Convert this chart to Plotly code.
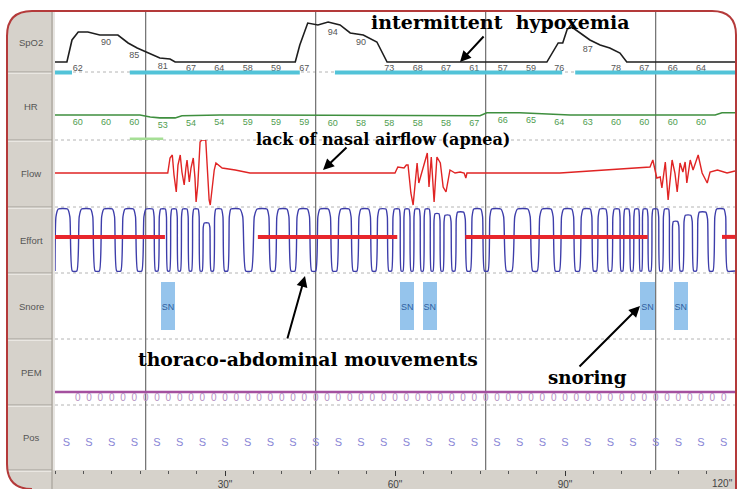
import numpy as np
import plotly.graph_objects as go

# ---------------- data ----------------
# SpO2 curve (time in s, value)
spo2_t = [0, 2.1, 3.0, 4.1, 5.8, 7.9, 11.1, 12.9, 14.5, 16.2, 18.5, 20.3, 21.2,
          42.4, 43.2, 44.6, 46.4, 48.2, 50.3, 52.1, 54.4, 56.8, 58.6,
          86.8, 88.8, 89.6, 90.4, 91.2, 92.6, 94.4, 96.2, 97.9, 99.7, 100.9, 120]
spo2_v = [58.3, 58.3, 76.7, 83.3, 83.3, 80.8, 80.8, 74.2, 70.0, 66.7, 61.7, 60.8, 58.3,
          58.3, 72.5, 90.8, 89.2, 91.7, 89.2, 82.5, 80.8, 75.0, 58.3,
          58.3, 74.2, 74.2, 85.8, 87.5, 82.5, 76.7, 72.5, 70.0, 65.8, 58.3, 58.3]
spo2_label_t = [4, 9, 14, 19, 24, 29, 34, 39, 44, 49, 54, 59, 64, 69, 74, 79, 84, 89, 94, 99, 104, 109, 114]
spo2_label_text = ['62', '90', '85', '81', '67', '64', '58', '59', '67', '94', '90', '73',
                   '68', '67', '61', '57', '59', '76', '87', '78', '67', '66', '64']
spo2_label_level = [52.5, 74.2, 63.3, 54.2, 52.5, 52.5, 52.5, 52.5, 52.5, 82.5, 74.2, 52.5,
                    52.5, 52.5, 52.5, 52.5, 52.5, 52.5, 68.3, 52.5, 52.5, 52.5, 52.5]
desat_start = [0, 13.2, 49.4, 91.8]
desat_end = [3.0, 43.2, 89.5, 120]

# Heart rate
hr_t = [0, 15, 16.8, 18.5, 21.2, 22.4, 29.1, 46.8, 75, 76.2, 82, 90.9, 116.5, 117.7, 120]
hr_v = [59, 59, 54, 52, 52, 57, 59, 58, 57, 64, 64, 59, 59, 64, 64]
hr_label_t = spo2_label_t
hr_label_text = ['60', '60', '60', '53', '54', '54', '59', '59', '59', '60', '58', '58',
                 '58', '58', '67', '66', '65', '64', '63', '60', '60', '60', '60']
hr_marker_start = [13.2]
hr_marker_end = [19.1]

# Nasal flow
flow_t = [0.0, 19.9, 20.3, 20.7, 21.0, 21.4, 21.7, 22.1, 22.4, 22.8, 23.1, 23.3, 23.7, 24.0,
          24.4, 24.7, 24.9, 25.2, 25.6, 25.9, 26.6, 26.8, 27.2, 27.4, 27.7, 28.1, 28.4, 29.5,
          31.8, 34.4, 60.0, 60.5, 61.6, 62.0, 62.3, 62.8, 63.2, 63.9, 64.2, 64.8, 65.7, 66.0,
          66.4, 66.9, 67.4, 68.0, 68.5, 69.0, 69.7, 70.6, 71.5, 72.2, 72.5, 72.7, 89.1, 105.0,
          105.5, 106.2, 106.8, 107.1, 107.7, 108.2, 108.9, 109.4, 109.8, 110.3, 110.8, 111.2,
          111.5, 112.1, 112.6, 113.5, 114.2, 115.1, 115.6, 116.9, 118.6, 120.0]
flow_v = [0, 0, 15, 18, -2, -19, 8, 18, 1, -12, 5, 13, -9, 5,
          15, -5, -29, -12, 31, 33, 33, 13, -27, -32, -17, 3, 10, 5,
          3, 0, 0, 6, 5, 8, 8, -20, -32, 10, -10, 3, 20, -14,
          16, -29, 16, 10, -14, -19, 3, 0, 1, 0, -5, 0, 0, 6,
          13, -5, -4, -15, 11, -27, 13, 0, -19, 10, 1, 11,
          -10, 13, 3, 18, 0, -10, 1, 3, 0, 2]

# Thoraco-abdominal effort: centre of each breath and its relative height
effort_hump_t = [1.4, 5.5, 9.4, 13.1, 16.8, 19.1, 21.0, 22.9, 24.9, 26.7, 28.8, 31.6,
                 36.7, 40.2, 43.8, 47.5, 51.2, 54.7, 57.9, 60.4, 62.1, 63.9, 65.7, 67.4,
                 69.2, 71.5, 74.5, 77.7, 82.6, 86.8, 90.5, 93.9, 96.7, 99.2, 100.9, 102.7,
                 104.1, 105.9, 108.0, 109.4, 111.7, 114.2, 117.4]
effort_hump_amp = [1, 1, 1, 1, 1, 1, 1, 1, 1, 0.55, 1, 1,
                   1, 1, 1, 1, 1, 1, 1, 1, 1, 1, 1, 0.85,
                   0.8, 0.9, 1, 1, 1, 1, 1, 1, 1, 1, 1, 1,
                   1, 1, 1, 0.6, 0.8, 0.9, 1]
apnea_start = [0, 35.8, 72.4, 117.7]
apnea_end = [19.4, 60.4, 104.6, 120]

# Snoring events
snore_start = [18.7, 60.9, 64.9, 103.2, 109.2]
snore_end = [21.2, 63.4, 67.4, 105.9, 111.7]

# PEM and position channels
pem_t = list(range(4, 119, 2))
pem_text = ['0'] * len(pem_t)
pos_t = list(range(2, 119, 4))
pos_text = ['S'] * len(pos_t)

epoch_lines = [16, 46, 76, 106]
tick_vals = [30, 60, 90, 120]
tick_text = ['30"', '60"', '90"', '']
last_tick_text = '120"'
channel_names = ['SpO2', 'HR', 'Flow', 'Effort', 'Snore', 'PEM', 'Pos']

# ---------------- geometry helpers ----------------
W, H = 737, 489
ML, MR, MT, MB = 55, 2, 12, 19
PW, PH = W - ML - MR, H - MT - MB


def px(x):
    return (x - ML) / PW


def py(y):
    return (H - MB - y) / PH


rows = [12, 72, 140, 207, 273, 339, 405, 470]
ranges = [[50, 100], [0, 160], [-34, 33], [-1.065, 1.065], [0, 1], [-13, 53], [0, 1]]


def effort_wave(centers, amps, t0, t1, low=-1.0):
    xs, ys = [t0], [low]
    n = len(centers)
    for i, (c, a) in enumerate(zip(centers, amps)):
        gl = c - centers[i - 1] if i > 0 else centers[1] - centers[0]
        gr = centers[i + 1] - c if i < n - 1 else gl
        xs += [max(t0, c - 0.4 * gl), max(t0, c - 0.3 * gl), max(t0, c - 0.2 * gl),
               c + 0.2 * gr, min(t1, c + 0.3 * gr), min(t1, c + 0.4 * gr)]
        ys += [low, 0.75 * a, a, a, 0.75 * a, low]
    xs.append(t1)
    ys.append(low)
    return xs, ys


def segments(starts, ends, level):
    xs, ys = [], []
    for s, e in zip(starts, ends):
        xs += [s, e, None]
        ys += [level, level, None]
    return xs, ys


fig = go.Figure()
skip = dict(hoverinfo='skip', showlegend=False)

# SpO2
fig.add_trace(go.Scatter(x=spo2_t, y=spo2_v, mode='lines', line=dict(color='#1e1e1e', width=1.6),
                         xaxis='x', yaxis='y', **skip))
fig.add_trace(go.Scatter(x=spo2_label_t, y=spo2_label_level, mode='text', text=spo2_label_text,
                         textfont=dict(family='Liberation Sans', size=9, color='#555555'),
                         xaxis='x', yaxis='y', **skip))
# HR
fig.add_trace(go.Scatter(x=hr_t, y=hr_v, mode='lines', line=dict(color='#3f8f3f', width=1.6),
                         xaxis='x', yaxis='y2', **skip))
fig.add_trace(go.Scatter(x=hr_label_t, y=np.interp(hr_label_t, hr_t, hr_v) - 8, mode='text',
                         text=hr_label_text, textposition='bottom center',
                         textfont=dict(family='Liberation Sans', size=9, color='#4f9d4f'),
                         xaxis='x', yaxis='y2', **skip))
mx, my = segments(hr_marker_start, hr_marker_end, 2.5)
fig.add_trace(go.Scatter(x=mx, y=my, mode='lines', line=dict(color='#a6df96', width=3),
                         xaxis='x', yaxis='y2', **skip))
# Flow
fig.add_trace(go.Scatter(x=flow_t, y=flow_v, mode='lines', line=dict(color='#e02424', width=1.4),
                         xaxis='x', yaxis='y3', **skip))
# Effort
ex, ey = effort_wave(effort_hump_t, effort_hump_amp, 0, 120)
fig.add_trace(go.Scatter(x=ex, y=ey, mode='lines', line=dict(color='#3d3daa', width=1.4,
                                                                 shape='spline', smoothing=0.5),
                         xaxis='x', yaxis='y4', **skip))
ax_, ay_ = segments(apnea_start, apnea_end, 0.1)
fig.add_trace(go.Scatter(x=ax_, y=ay_, mode='lines', line=dict(color='#e8262c', width=4),
                         xaxis='x', yaxis='y4', **skip))
# Snore
snore_c = [(s + e) / 2 for s, e in zip(snore_start, snore_end)]
snore_w = [e - s for s, e in zip(snore_start, snore_end)]
fig.add_trace(go.Bar(x=snore_c, y=[0.72] * len(snore_c), base=0.14, width=snore_w,
                     marker=dict(color='#95c4ec', line=dict(width=0)),
                     xaxis='x', yaxis='y5', **skip))
fig.add_trace(go.Scatter(x=snore_c, y=[0.47] * len(snore_c), mode='text', text=['SN'] * len(snore_c),
                         textfont=dict(family='Liberation Sans', size=9, color='#2f5f9f'),
                         xaxis='x', yaxis='y5', **skip))
# PEM
fig.add_trace(go.Scatter(x=[0, 120], y=[0, 0], mode='lines', line=dict(color='#a4509f', width=2.5),
                         xaxis='x', yaxis='y6', **skip))
fig.add_trace(go.Scatter(x=pem_t, y=[-6] * len(pem_t), mode='text', text=pem_text,
                         textfont=dict(family='Liberation Sans', size=10, color='#b38fc2'),
                         xaxis='x', yaxis='y6', **skip))
# Position
fig.add_trace(go.Scatter(x=pos_t, y=[0.415] * len(pos_t), mode='text', text=pos_text,
                         textfont=dict(family='Liberation Sans', size=11, color='#8a86d6'),
                         xaxis='x', yaxis='y7', **skip))

# ---------------- layout ----------------
layout = dict(
    width=W, height=H,
    margin=dict(l=ML, r=MR, t=MT, b=MB, autoexpand=False),
    paper_bgcolor='white', plot_bgcolor='white',
    showlegend=False, bargap=0,
    xaxis=dict(domain=[0, 1], anchor='y7', range=[0, 120], tickvals=tick_vals, ticktext=tick_text,
               ticks='outside', ticklen=5, tickcolor='#333333', tickwidth=1,
               minor=dict(dtick=5, tick0=0, ticks='outside', ticklen=3, tickcolor='#555555'),
               showgrid=False, zeroline=False, showline=False, fixedrange=True,
               tickfont=dict(family='Liberation Sans', size=10, color='#444444')),
)
for i in range(7):
    key = 'yaxis' if i == 0 else f'yaxis{i + 1}'
    layout[key] = dict(domain=[py(rows[i + 1]), py(rows[i])], range=ranges[i], visible=False,
                       fixedrange=True, anchor='x')

shapes = []
# left label column (rounded on the left) and bottom band
col = (f"M {px(53)},{py(11)} L {px(32)},{py(11)} Q {px(7)},{py(11)} {px(7)},{py(36)} "
       f"L {px(7)},{py(464)} Q {px(7)},{py(489)} {px(32)},{py(489)} L {px(53)},{py(489)} Z")
shapes.append(dict(type='path', path=col, xref='paper', yref='paper', fillcolor='#d6d2cb',
                   line=dict(width=0), layer='below'))
shapes.append(dict(type='rect', xref='paper', yref='paper', x0=px(52), x1=px(737), y0=py(489), y1=py(470),
                   fillcolor='#d6d2cb', line=dict(width=0), layer='below'))
for b in rows[1:]:
    shapes.append(dict(type='line', xref='paper', yref='paper', x0=px(8), x1=px(52), y0=py(b), y1=py(b),
                       line=dict(color='#a39f97', width=1)))
    shapes.append(dict(type='line', xref='paper', yref='paper', x0=px(8), x1=px(52), y0=py(b + 1.2),
                       y1=py(b + 1.2), line=dict(color='#f3f1ed', width=1)))
shapes.append(dict(type='line', xref='paper', yref='paper', x0=px(52), x1=px(52), y0=py(489), y1=py(11),
                   line=dict(color='#9d9890', width=1)))
shapes.append(dict(type='line', xref='paper', yref='paper', x0=px(54), x1=px(54), y0=py(470), y1=py(12),
                   line=dict(color='#cfcbc4', width=1)))
# dotted channel separators
for b in rows[1:-1]:
    shapes.append(dict(type='line', xref='paper', yref='paper', x0=0, x1=1, y0=py(b), y1=py(b),
                       line=dict(color='#b4b4b4', width=1, dash='dot'), layer='below'))
# epoch lines
for t in epoch_lines:
    shapes.append(dict(type='line', xref='x', yref='paper', x0=t, x1=t, y0=0, y1=1,
                       line=dict(color='#6e6e6e', width=1.2), layer='below'))
# desaturation markers
for s, e in zip(desat_start, desat_end):
    shapes.append(dict(type='line', xref='x', yref='paper', x0=s, x1=e, y0=py(72.5), y1=py(72.5),
                       line=dict(color='#52c3d8', width=4)))
# red rounded frame
frame = (f"M {px(32)},{py(489)} Q {px(7)},{py(489)} {px(7)},{py(464)} L {px(7)},{py(36)} "
         f"Q {px(7)},{py(11)} {px(32)},{py(11)} L {px(712)},{py(11)} Q {px(736)},{py(11)} {px(736)},{py(35)} "
         f"L {px(736)},{py(489)}")
shapes.append(dict(type='path', path=frame, xref='paper', yref='paper',
                   line=dict(color='#b43a3a', width=2)))
layout['shapes'] = shapes

ann = []
centers = [(a + b) / 2 for a, b in zip(rows[:-1], rows[1:])]
for name, c in zip(channel_names, centers):
    ann.append(dict(text=name, x=px(31), y=py(c), xref='paper', yref='paper', showarrow=False,
                    xanchor='center', yanchor='middle',
                    font=dict(family='Liberation Sans', size=9.5, color='#555555')))
ann.append(dict(text=last_tick_text, x=120, y=py(483), xref='x', yref='paper', showarrow=False,
                xanchor='right', yanchor='middle',
                font=dict(family='Liberation Sans', size=10, color='#444444')))
serif = 'DejaVu Serif'
notes = [
    ('intermittent  hypoxemia', 500, 22, 19),
    ('lack of nasal airflow (apnea)', 383, 139, 16),
    ('thoraco-abdominal mouvements', 308, 359, 18.8),
    ('snoring', 587, 377, 18.3),
]
for txt, cx, cy, fs in notes:
    ann.append(dict(text=f'<b>{txt}</b>', x=px(cx), y=py(cy), xref='paper', yref='paper', showarrow=False,
                    xanchor='center', yanchor='middle',
                    font=dict(family=serif, size=fs, color='black')))
arrows = [
    (460, 62, 25, -27),
    (323, 170, 25, -24),
    (305, 276, -18, 64),
    (640, 306, -62, 62),
]
for hx, hy, dx, dy in arrows:
    ann.append(dict(text='', x=px(hx), y=py(hy), xref='paper', yref='paper', showarrow=True,
                    ax=dx, ay=dy, arrowhead=2, arrowsize=1.1, arrowwidth=2, arrowcolor='black',
                    standoff=0))
layout['annotations'] = ann

fig.update_layout(**layout)
fig.write_html('out.html', config={'displayModeBar': False},
               post_script="document.body.style.margin='0';document.body.style.overflow='hidden';")
